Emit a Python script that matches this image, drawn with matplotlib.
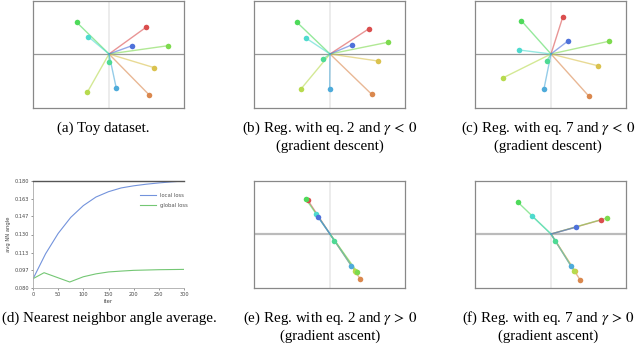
import colorsys
import matplotlib
matplotlib.use("Agg")
import matplotlib.pyplot as plt

plt.rcParams['mathtext.fontset'] = 'stix'

W, H = 640, 345

# ---- data ----
# hue index order: red, orange, yellow, yellow-green, light green, green, mint, turquoise, sky blue, blue
hues = [0, 25, 50, 75, 100, 125, 150, 175, 200, 225]

toy_x = [37, 40.3, 45.3, -21.7, 59, -32.3, 0.3, -20.7, 7.3, 23]
toy_y = [26.7, -41, -13.7, -38.3, 8.3, 31.7, -7.7, 17.3, -34.3, 8.3]

b_x = [39, 41.7, 48, -29.3, 57.7, -33, -7.3, -23.7, -0.3, 22.3]
b_y = [25.3, -40.3, -7, -35.3, 11.7, 31.7, -5.3, 15.7, -34.7, 9.3]

c_x = [11.7, 38, 46.7, -47.7, 57.7, -29.7, -4.3, -31.7, -7, 17.3]
c_y = [36.7, -42.3, -11.7, -23.7, 12.7, 33.3, -7, 4, -34.7, 13.3]

e_x = [-22.3, 30.3, 26, 24.7, 27.3, -24.3, 4.3, -14, 21.3, -11.7]
e_y = [34, -45, -37.5, -36.7, -38, 35.3, -7, 20, -31.7, 16.7]

f_x = [49.7, 29, 23.8, 23.3, 56, -33, 4.3, -19, 20, 24.7]
f_y = [14, -45.7, -36.5, -37.3, 16, 31.7, -7, 18, -32, 6.7]

iters_local = [0, 25, 50, 75, 100, 125, 150, 175, 200, 225, 250, 275, 300]
local_loss = [0.0885, 0.112, 0.131, 0.146, 0.157, 0.165, 0.170, 0.1735, 0.1755, 0.177, 0.1782, 0.1792, 0.1800]
iters_global = [0, 22, 73, 100, 125, 150, 175, 200, 250, 300]
global_loss = [0.0887, 0.0943, 0.0856, 0.0905, 0.0932, 0.095, 0.0958, 0.0965, 0.0971, 0.0974]

yticks_d = [0.080, 0.097, 0.113, 0.130, 0.147, 0.163, 0.180]
xticks_d = [0, 50, 100, 150, 200, 250, 300]

captions = [
    ("(a) Toy dataset.", None),
    ("(b) Reg. with eq. 2 and $\\gamma\\,<\\,0$", "(gradient descent)"),
    ("(c) Reg. with eq. 7 and $\\gamma\\,<\\,0$", "(gradient descent)"),
    ("(d) Nearest neighbor angle average.", None),
    ("(e) Reg. with eq. 2 and $\\gamma\\,>\\,0$", "(gradient ascent)"),
    ("(f) Reg. with eq. 7 and $\\gamma\\,>\\,0$", "(gradient ascent)"),
]

colors = [colorsys.hls_to_rgb(h / 360.0, 0.58, 0.65) for h in hues]

fig = plt.figure(figsize=(W / 100, H / 100), dpi=100)


def add_ax(left_px, top_px, w_px=151, h_px=107):
    return fig.add_axes([left_px / W, 1 - (top_px + h_px) / H, w_px / W, h_px / H])


def scatter_panel(ax, xs, ys, row2=False):
    ax.set_xlim(-76, 75)
    ax.set_ylim(-54, 53)
    ax.axvline(0, color='#ebebeb', lw=1.3, zorder=0)
    if row2:
        ax.axhline(0, color='#bbbbbb', lw=1.6, zorder=0)
    else:
        ax.axhline(0, color='#999999', lw=0.9, zorder=0)
    for x, y, c in zip(xs, ys, colors):
        ax.plot([0, x], [0, y], color=c, lw=1.0, alpha=0.6, zorder=2)
    for x, y, c in zip(xs, ys, colors):
        ax.plot([x], [y], 'o', color=c, ms=4.0, mec='none', zorder=3)
    ax.set_xticks([])
    ax.set_yticks([])
    for s in ax.spines.values():
        s.set_color('#888888')
        s.set_linewidth(0.9)


panels = [(33, 1, toy_x, toy_y, False), (254, 1, b_x, b_y, False), (475, 1, c_x, c_y, False),
          (254, 181, e_x, e_y, True), (475, 181, f_x, f_y, True)]
for left, top, xs, ys, r2 in panels:
    ax = add_ax(left, top)
    scatter_panel(ax, xs, ys, r2)

# line chart (d)
axd = add_ax(33, 181)
axd.plot(iters_local, local_loss, color='#7393dc', lw=0.8, label='local loss')
axd.plot(iters_global, global_loss, color='#74c774', lw=0.8, label='global loss')
axd.set_xlim(0, 300)
axd.set_ylim(0.08, 0.18)
axd.set_yticks(yticks_d)
axd.set_yticklabels(['%.3f' % v for v in yticks_d])
axd.set_xticks(xticks_d)
axd.tick_params(labelsize=3.6, length=1.5, width=0.4, pad=1.5, colors='#444444')
axd.set_xlabel('iter', fontsize=3.8, labelpad=1.5, color='#444444')
axd.set_ylabel('avg NN angle', fontsize=3.8, labelpad=2, color='#444444')
axd.spines['top'].set_color('#555555')
axd.spines['top'].set_linewidth(1.0)
axd.spines['right'].set_visible(False)
for s in ('left', 'bottom'):
    axd.spines[s].set_color('#aaaaaa')
    axd.spines[s].set_linewidth(0.6)
axd.legend(loc='upper left', bbox_to_anchor=(0.68, 0.93), frameon=False, fontsize=3.8,
           handlelength=3, labelspacing=0.9, labelcolor='#555555')

# captions
centers = [103, 330, 548, 109, 330, 548]
rows = [(128, 146), (318, 336)]
for i, (l1, l2) in enumerate(captions):
    cx = centers[i]
    y1, y2 = rows[i // 3]
    fig.text(cx / W, 1 - y1 / H, l1, ha='center', va='center', fontsize=10.8,
             family='Liberation Serif')
    if l2:
        fig.text(cx / W, 1 - y2 / H, l2, ha='center', va='center', fontsize=10.8,
                 family='Liberation Serif')

fig.savefig('out.png', dpi=100)
